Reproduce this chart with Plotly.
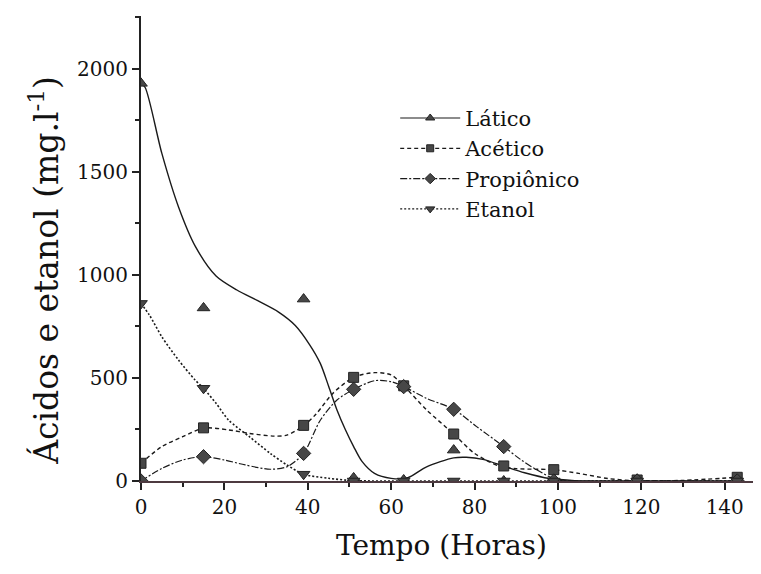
import plotly.graph_objects as go

# Sampling times (hours)
tempo = [0, 15, 39, 51, 63, 75, 87, 99, 119, 143]
# Measured values (mg/l)
latico = [1930, 840, 883, 15, 5, 150, 0, 0, 8, 0]
acetico = [86, 258, 270, 503, 462, 228, 73, 55, 5, 18]
propionico = [0, 118, 134, 445, 458, 348, 167, 0, 0, 0]
etanol = [862, 450, 33, 0, 0, 0, 0, 0, 0, 0]

# Smoothed fitted curves
lat_cx = [0, 1, 5, 9, 13, 18, 23, 28, 33, 37, 40.5, 43, 45, 47, 49, 51, 53, 56, 60, 64, 68.5, 75, 78, 82, 87, 92, 98, 104, 110, 143]
lat_cy = [1930, 1910, 1590, 1330, 1140, 995, 927, 875, 820, 755, 660, 571, 460, 345, 250, 167, 95, 37, 13, 16, 69, 112, 115, 105, 72, 40, 12, 2, 0, 0]
ace_cx = [0, 5, 10, 15, 21, 26, 32, 35, 39, 42, 46, 51, 56, 60, 63, 68.5, 75, 80, 86, 90, 95, 99, 105, 112, 118, 130, 143]
ace_cy = [86, 167, 215, 257, 248, 231, 218, 223, 268, 325, 425, 503, 526, 515, 462, 345, 228, 134, 72, 60, 57, 55, 37, 12, 2, 3, 18]
pro_cx = [0, 5, 10, 15, 20, 25, 31, 35, 39, 43, 47, 51, 56, 60, 63, 68.5, 75, 80.5, 87, 91, 95, 100, 110, 143]
pro_cy = [0, 61, 102, 118, 102, 78, 57, 69, 134, 295, 393, 445, 487, 482, 458, 401, 348, 264, 167, 105, 53, 5, 0, 0]
eta_cx = [0, 2, 5, 9, 13, 15, 18, 21, 26, 31, 35, 39, 45, 51, 60, 143]
eta_cy = [862, 806, 700, 587, 490, 450, 377, 296, 215, 134, 78, 33, 13, 2, 0, 0]

names = ["Lático", "Acético", "Propiônico", "Etanol"]
symbols = ["triangle-up", "square", "diamond", "triangle-down"]
sizes = [11, 10, 11, 11]
dashes = ["solid", "4px,3px", "7px,2px,2px,2px", "2px,2px"]
widths = [1.4, 1.4, 1.2, 1.6]

series = [latico, acetico, propionico, etanol]
curves = [(lat_cx, lat_cy), (ace_cx, ace_cy), (pro_cx, pro_cy), (eta_cx, eta_cy)]

mcol = "#474747"
fig = go.Figure()
for i in range(4):
    cx, cy = curves[i]
    fig.add_trace(go.Scatter(x=cx, y=cy, mode="lines", line=dict(color="#1a1a1a", width=widths[i], dash=dashes[i], shape="spline", smoothing=0.8),
                             showlegend=False, hoverinfo="skip"))
for i in range(4):
    fig.add_trace(go.Scatter(x=tempo, y=series[i], mode="markers", showlegend=False,
                             marker=dict(symbol=symbols[i], size=sizes[i], color=mcol, line=dict(color="#222", width=1))))
for i in range(4):
    fig.add_trace(go.Scatter(x=[None], y=[None], mode="lines+markers", name=names[i],
                             line=dict(color="#1a1a1a", width=1.2, dash=dashes[i]),
                             marker=dict(symbol=symbols[i], size=sizes[i] - 3, color=mcol, line=dict(color="#222", width=1))))

font = "DejaVu Serif"
# page body has an 8px margin, so figure is drawn at (8, 8)
fig.update_layout(
    width=753, height=566,
    margin=dict(l=133, r=0, t=8, b=93),
    paper_bgcolor="white", plot_bgcolor="white",
    font=dict(family=font, color="#111"),
    showlegend=True,
    legend=dict(x=0.41, y=0.824, xanchor="left", yanchor="top", bgcolor="rgba(0,0,0,0)",
                font=dict(size=21, family=font), itemwidth=60, tracegroupgap=0),
    xaxis=dict(range=[0, 148.7], tickvals=[0, 20, 40, 60, 80, 100, 120, 140], showgrid=False, zeroline=False,
               showline=True, linecolor="#4d3a40", linewidth=2, ticks="outside", ticklen=7, tickwidth=2, tickcolor="#222",
               minor=dict(dtick=10, ticks="outside", ticklen=4, tickwidth=1.5, tickcolor="#222"),
               tickfont=dict(size=20, family=font)),
    yaxis=dict(range=[0, 2257], tickvals=[0, 500, 1000, 1500, 2000], showgrid=False, zeroline=False,
               showline=True, linecolor="#222", linewidth=2, ticks="outside", ticklen=7, tickwidth=2, tickcolor="#222",
               minor=dict(dtick=250, ticks="outside", ticklen=4, tickwidth=1.5, tickcolor="#222"),
               tickfont=dict(size=20, family=font)),
    annotations=[
        dict(text="Tempo (Horas)", xref="paper", yref="paper", x=0.484, y=-0.138, xanchor="center", yanchor="middle",
             showarrow=False, font=dict(size=28, family=font, color="#111")),
        dict(text="Ácidos e etanol (mg.l<sup>-1</sup>)", xref="paper", yref="paper", x=-0.155, y=0.454, xanchor="center",
             yanchor="middle", textangle=-90, showarrow=False, font=dict(size=33, family=font, color="#111")),
    ],
)
fig.write_html("out.html")
